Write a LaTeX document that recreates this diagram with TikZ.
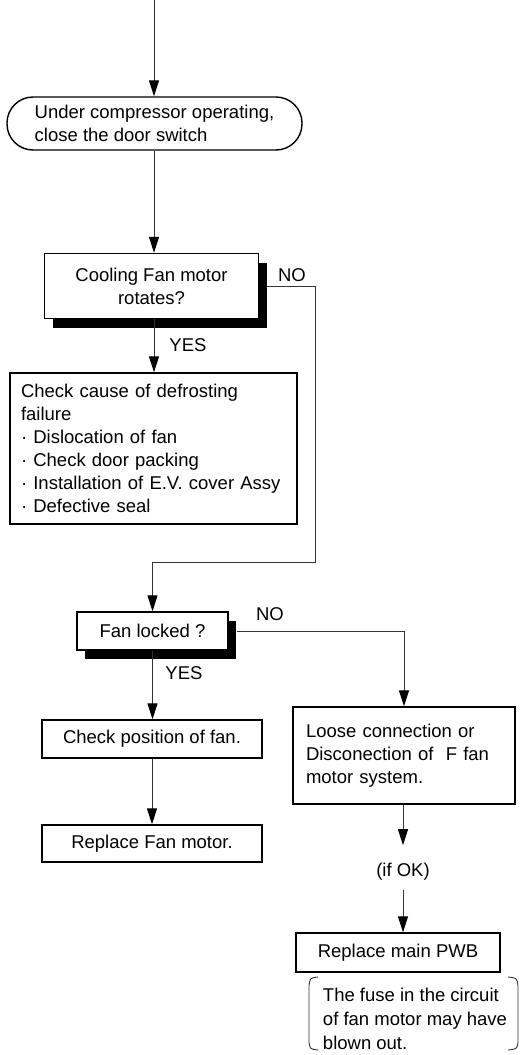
\documentclass[tikz,border=0pt]{standalone}
\usepackage{fontspec}
\setmainfont{Liberation Sans}
\usetikzlibrary{arrows.meta,shadows}
\newcommand{\fz}{\fontsize{18.5pt}{23pt}\selectfont}
\begin{document}
\begin{tikzpicture}[x=1pt,y=-1pt,
 box/.style={draw=black, line width=1.4pt, fill=white, inner sep=0pt, font=\fz, align=center},
 shad/.style={drop shadow={shadow xshift=8pt, shadow yshift=-9pt, fill=black, opacity=1}},
 lbl/.style={inner sep=0pt, font=\fz},
 conn/.style={draw=black!80, line width=1pt, -{Triangle[length=16pt,width=10pt,color=black]}},
 plain/.style={draw=black!80, line width=0.9pt},
]
\useasboundingbox (0,0) rectangle (520,1055);
\coordinate (top) at (154,0);
\node[box, rounded corners=26pt, minimum width=295pt, minimum height=53pt, align=left] (start) at (154.5,123.5) {Under compressor operating,\\close the door switch};
\node[box, shad, minimum width=214pt, minimum height=65pt] (cool) at (151.5,286) {Cooling Fan motor\\rotates?};
\node[box, align=left, text width=265pt, inner xsep=11pt, minimum height=151pt] (check) at (153.5,448.5) {Check cause of defrosting\\failure\\· Dislocation of fan\\· Check door packing\\· Installation of E.V. cover Assy\\· Defective seal};
\coordinate (corner) at (315,562);
\node[box, shad, minimum width=151pt, minimum height=38pt] (fan) at (152.5,631) {Fan locked ?};
\node[box, minimum width=220pt, minimum height=38pt] (pos) at (152,739) {Check position of fan.};
\node[box, minimum width=220pt, minimum height=37pt] (rep) at (152,843.5) {Replace Fan motor.};
\node[box, align=left, text width=196pt, inner xsep=13pt, minimum height=97pt] (loose) at (404,755.5) {Loose connection or\\Disconection of~ F fan\\motor system.};
\node[lbl] (ifok) at (403,872) {(if OK)};
\node[box, minimum width=204pt, minimum height=39pt] (pwb) at (398,952.5) {Replace main PWB};
\node[lbl, align=left, font=\fontsize{18.5pt}{24pt}\selectfont] (fuse) at (415,1019) {The fuse in the circuit\\of fan motor may have\\blown out.};
\node[lbl] (no1) at (292,275) {NO};
\node[lbl] (yes1) at (188,345) {YES};
\node[lbl] (no2) at (270,614) {NO};
\node[lbl] (yes2) at (184,673) {YES};
\draw[conn] (top) -- (top |- start.north);
\draw[conn] (top |- start.south) -- (top |- cool.north);
\draw[conn] (top |- cool.south) -- (top |- check.north);
\draw[conn] ([xshift=8pt]cool.east) -| (corner) -| (fan.north);
\draw[conn] (fan.south) -- (fan.south |- pos.north);
\draw[conn] (pos.south) -- (pos.south |- rep.north);
\draw[conn] ([xshift=8pt]fan.east) -| (loose.north);
\draw[conn, shorten >=18pt] (ifok |- loose.south) -- (ifok.north);
\draw[conn, shorten <=9pt] (ifok.south) -- (ifok.south |- pwb.north);
\draw[plain] (318,977) .. controls (310,978) .. (309,986) -- (309,1042) .. controls (310,1049) .. (318,1050);
\draw[plain] (508,977) .. controls (517,978) .. (518,986) -- (518,1042) .. controls (517,1049) .. (508,1050);
\end{tikzpicture}
\end{document}
